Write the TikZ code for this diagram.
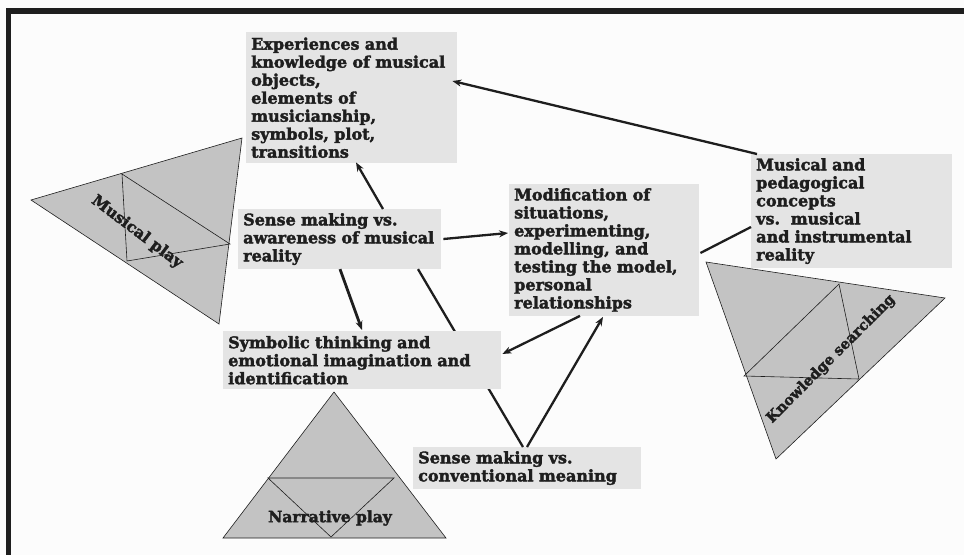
\documentclass[tikz,border=0pt]{standalone}
\usepackage{fontspec}
\setmainfont{DejaVu Serif}[BoldFeatures={FakeBold=2.2}]
\usetikzlibrary{arrows.meta,calc}
\definecolor{boxgray}{HTML}{E4E4E4}
\definecolor{trigray}{HTML}{C3C3C3}
\definecolor{ink}{HTML}{1E1E1E}
\begin{document}
\begin{tikzpicture}[x=1pt,y=-1pt,
  box/.style={fill=boxgray, inner xsep=5pt, inner ysep=4pt, anchor=north west,
    align=left, font=\bfseries\fontsize{16}{18}\selectfont, text=ink},
  tri/.style={fill=trigray, draw=ink, line width=0.6pt},
  inner/.style={draw=ink, line width=0.6pt},
  trilabel/.style={font=\bfseries\fontsize{15.5}{18}\selectfont, text=ink, inner sep=0pt},
  conn/.style={line width=2.3pt, draw=ink},
  arr/.style={conn, -{Stealth[length=9pt,width=7pt]}}]
\useasboundingbox (0,0) rectangle (964,555);
\fill[white!99!black] (0,0) rectangle (964,555);
% frame
\fill[ink] (6,8) rectangle (964,14);
\fill[ink] (6,8) rectangle (11,555);

% Musical play triangle
\coordinate (m1) at (31,200);
\coordinate (m2) at (242,138);
\coordinate (m3) at (219,324);
\coordinate (ma) at (122,174);
\coordinate (mb) at (127,261);
\coordinate (mc) at (230,244);
\draw[tri] (m1) -- (m2) -- (m3) -- cycle;
\draw[inner] (ma) -- (mb) -- (mc) -- cycle;
\node[trilabel, rotate=-37] (mp) at (137,232) {Musical play};

% Narrative play triangle
\coordinate (n1) at (334,392);
\coordinate (n2) at (223,538);
\coordinate (n3) at (446,538);
\coordinate (na) at (268,478);
\coordinate (nb) at (394,478);
\coordinate (nc) at (331,537);
\draw[tri] (n1) -- (n2) -- (n3) -- cycle;
\draw[inner] (na) -- (nb) -- (nc) -- cycle;
\node[trilabel] (np) at (330,518) {Narrative play};

% Knowledge searching triangle
\coordinate (k1) at (706,262);
\coordinate (k2) at (945,298);
\coordinate (k3) at (776,459);
\coordinate (ka) at (839,284);
\coordinate (kb) at (744,376);
\coordinate (kc) at (859,379);
\draw[tri] (k1) -- (k2) -- (k3) -- cycle;
\draw[inner] (ka) -- (kb) -- (kc) -- cycle;
\node[trilabel, rotate=45, font=\bfseries\fontsize{14.5}{16}\selectfont] (ks) at (831,359) {Knowledge searching};

% boxes that a connector passes behind
\node[box, minimum width=203pt, minimum height=58pt, text width=193pt] (b2) at (238,209)
  {Sense making vs.\\awareness of musical\\reality};
\node[box, minimum width=228pt, minimum height=40pt, text width=218pt] (b6) at (413,447)
  {Sense making vs.\\conventional meaning};
% line behind symbolic box
\draw[conn] ([shift={(180,0)}]b2.south west) -- ([shift={(110,0)}]b6.north west);

\node[box, minimum width=211pt, minimum height=131pt, text width=201pt] (b1) at (246,32)
  {Experiences and\\knowledge of musical\\objects,\\elements of\\musicianship,\\symbols, plot,\\transitions};
\node[box, minimum width=190pt, minimum height=131pt, text width=180pt] (b3) at (509,184)
  {Modification of\\situations,\\experimenting,\\modelling, and\\testing the model,\\personal\\relationships};
\node[box, minimum width=201pt, minimum height=113pt, text width=191pt] (b4) at (751,154)
  {Musical and\\pedagogical\\concepts\\vs.~~musical\\and instrumental\\reality};
\node[box, minimum width=278pt, minimum height=58pt, text width=268pt] (b5) at (223,331)
  {Symbolic thinking and\\emotional imagination and\\identification};

% connectors
\draw[arr] ([shift={(6,0)}]b4.north west) -- ([shift={(-5,49)}]b1.north east);
\draw[arr] ([shift={(145,0)}]b2.north west) -- ([shift={(110,-1)}]b1.south west);
\draw[arr] ([shift={(2,30)}]b2.north east) -- ([shift={(-1,49)}]b3.north west);
\draw[conn] ([shift={(1,69)}]b3.north east) -- ([shift={(0,73)}]b4.north west);
\draw[arr, line width=2.8pt] ([shift={(102,0)}]b2.south west) -- ([shift={(139,-1)}]b5.north west);
\draw[arr] ([shift={(114,0)}]b6.north west) -- ([shift={(94,1)}]b3.south west);
\draw[arr] ([shift={(71,0)}]b3.south west) -- ([shift={(1,23)}]b5.north east);
\end{tikzpicture}
\end{document}
